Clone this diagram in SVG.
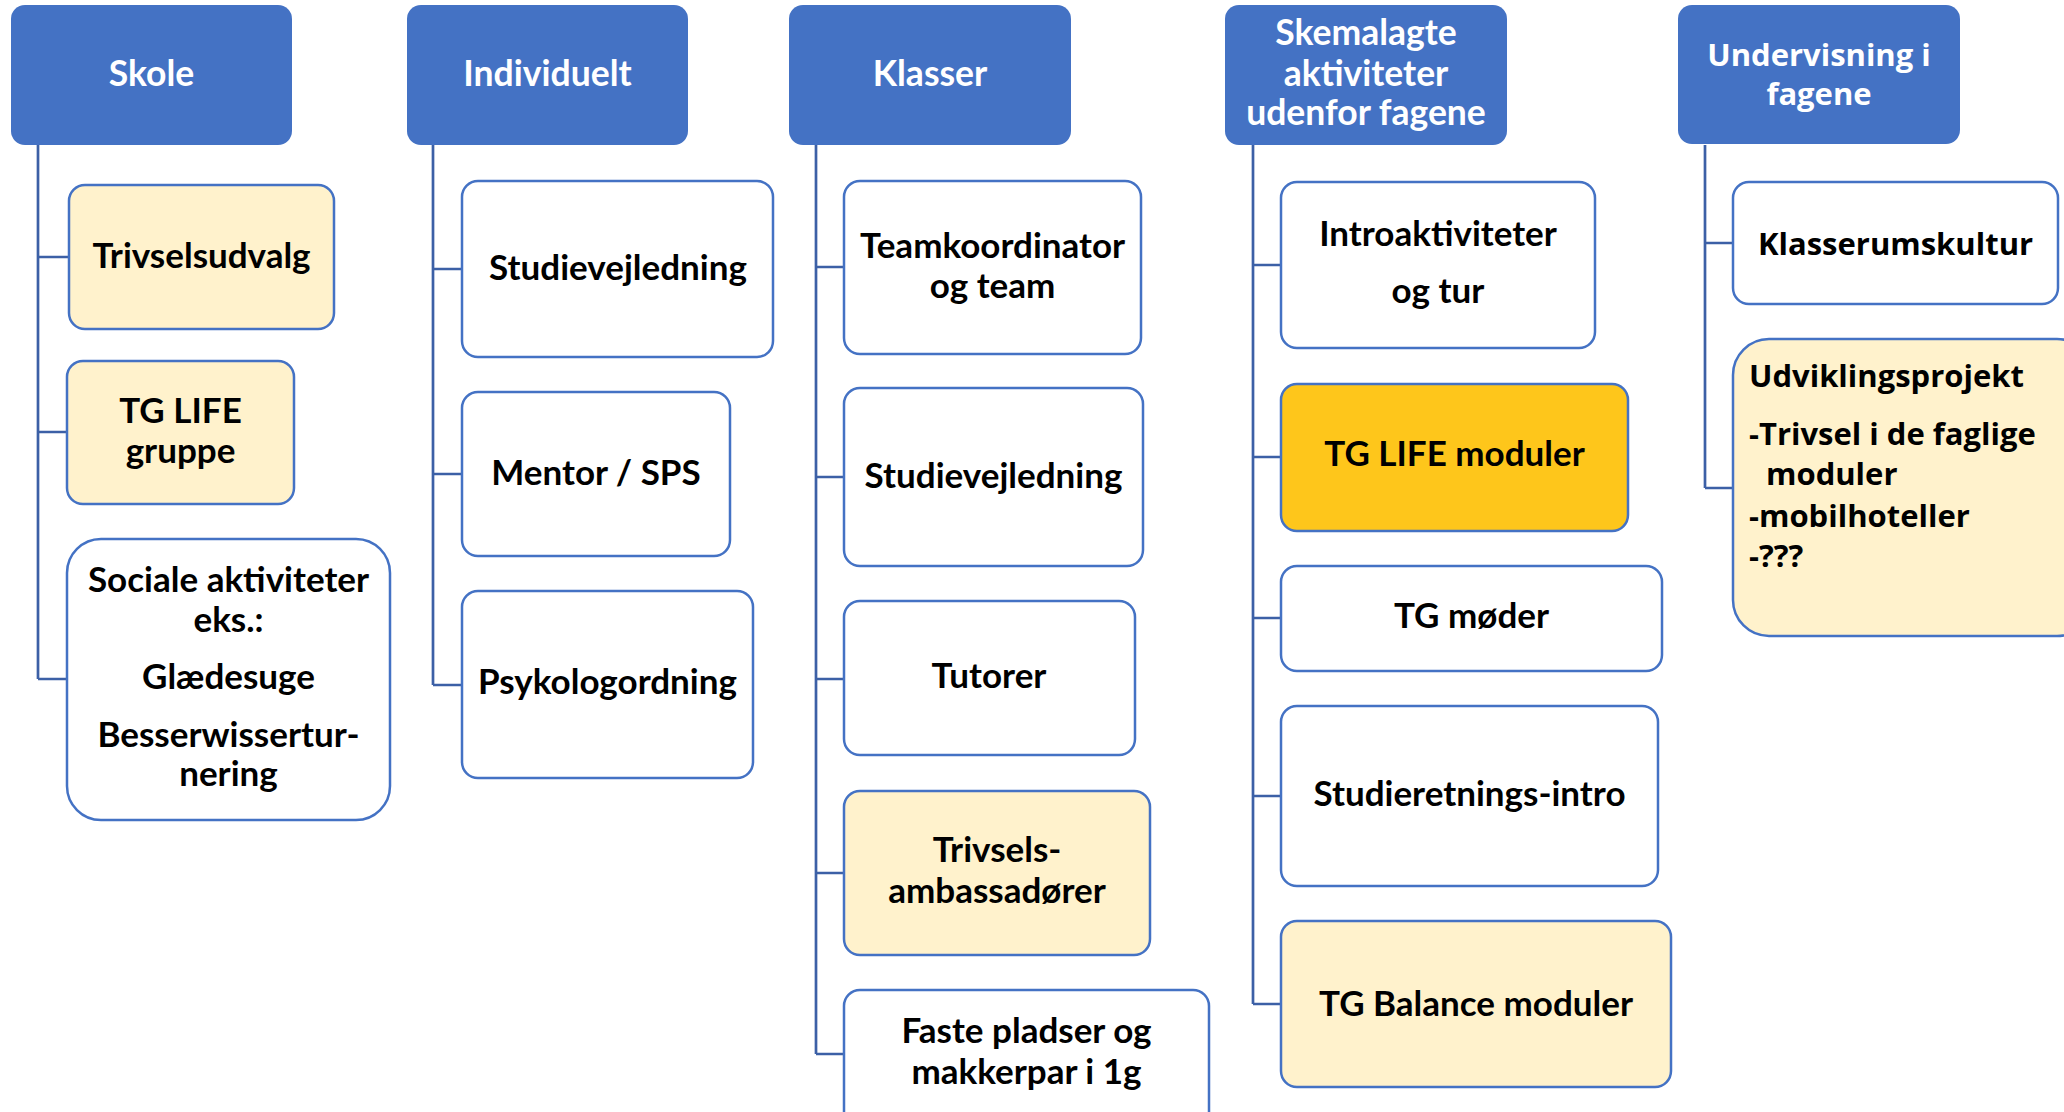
<svg xmlns="http://www.w3.org/2000/svg" width="2064" height="1112" viewBox="0 0 2064 1112">
<style>
.hd{fill:#4472C4;}
.bx{fill:#FFFFFF;stroke:#4472C4;stroke-width:2.5;}
.cr{fill:#FFF2CC;stroke:#4472C4;stroke-width:2.5;}
.gd{fill:#FEC61B;stroke:#4472C4;stroke-width:2.5;}
.ln{fill:none;stroke:#3C60A6;stroke-width:2.7;}
text{font-family:Lato,"Liberation Sans",sans-serif;font-weight:700;text-anchor:middle;}
.ht{fill:#FFFFFF;font-size:35.5px;}
.t{fill:#000000;font-size:35px;}
.ot{font-family:"Open Sans","Noto Sans","DejaVu Sans",sans-serif;font-size:31px;}
.lt{text-anchor:start;}
</style>
<rect width="2064" height="1112" fill="#FFFFFF"/>
<g id="connectors">
<path class="ln" d="M38,145 V679 M38,257 H69 M38,432 H67 M38,679 H67"/>
<path class="ln" d="M433,145 V685 M433,269 H462 M433,474 H462 M433,685 H462"/>
<path class="ln" d="M816,145 V1054 M816,267 H844 M816,477 H844 M816,679 H844 M816,873 H844 M816,1054 H844"/>
<path class="ln" d="M1253,145 V1004 M1253,265 H1281 M1253,457 H1281 M1253,618 H1281 M1253,796 H1281 M1253,1004 H1281"/>
<path class="ln" d="M1705,145 V488 M1705,243 H1733 M1705,488 H1733"/>
</g>
<g id="skole">
<rect class="hd" x="11" y="5" width="281" height="140" rx="14"/>
<text class="ht" x="151.5" y="86">Skole</text>
</g>
<g id="individuelt">
<rect class="hd" x="407" y="5" width="281" height="140" rx="14"/>
<text class="ht" x="547.5" y="86">Individuelt</text>
</g>
<g id="klasser">
<rect class="hd" x="789" y="5" width="282" height="140" rx="14"/>
<text class="ht" x="930" y="86">Klasser</text>
</g>
<g id="skemalagte">
<rect class="hd" x="1225" y="5" width="282" height="140" rx="14"/>
<text class="ht" x="1366" y="45">Skemalagte</text>
<text class="ht" x="1366" y="85.5">aktiviteter</text>
<text class="ht" x="1366" y="125">udenfor fagene</text>
</g>
<g id="undervisning">
<rect class="hd" x="1678" y="5" width="282" height="139" rx="14"/>
<text class="ht ot" x="1819" y="66">Undervisning i</text>
<text class="ht ot" x="1819" y="105">fagene</text>
</g>
<g id="trivselsudvalg">
<rect class="cr" x="69" y="185" width="265" height="144" rx="16"/>
<text class="t" x="201.5" y="268">Trivselsudvalg</text>
</g>
<g id="tglife-gruppe">
<rect class="cr" x="67" y="361" width="227" height="143" rx="16"/>
<text class="t" x="180.5" y="422.5">TG LIFE</text>
<text class="t" x="180.5" y="462.5">gruppe</text>
</g>
<g id="sociale">
<rect class="bx" x="67" y="539" width="323" height="281" rx="34"/>
<text class="t" x="228.5" y="592">Sociale aktiviteter</text>
<text class="t" x="228.5" y="632">eks.:</text>
<text class="t" x="228.5" y="689">Glædesuge</text>
<text class="t" x="228.5" y="746.5">Besserwissertur-</text>
<text class="t" x="228.5" y="786">nering</text>
</g>
<g id="studievejledning-ind">
<rect class="bx" x="462" y="181" width="311" height="176" rx="16"/>
<text class="t" x="618" y="280">Studievejledning</text>
</g>
<g id="mentor">
<rect class="bx" x="462" y="392" width="268" height="164" rx="16"/>
<text class="t" x="596" y="485">Mentor / SPS</text>
</g>
<g id="psykologordning">
<rect class="bx" x="462" y="591" width="291" height="187" rx="16"/>
<text class="t" x="607.5" y="694">Psykologordning</text>
</g>
<g id="teamkoordinator">
<rect class="bx" x="844" y="181" width="297" height="173" rx="16"/>
<text class="t" x="992.5" y="258">Teamkoordinator</text>
<text class="t" x="992.5" y="297.5">og team</text>
</g>
<g id="studievejledning-kl">
<rect class="bx" x="844" y="388" width="299" height="178" rx="16"/>
<text class="t" x="993.5" y="487.5">Studievejledning</text>
</g>
<g id="tutorer">
<rect class="bx" x="844" y="601" width="291" height="154" rx="16"/>
<text class="t" x="989" y="688">Tutorer</text>
</g>
<g id="trivselsambassadorer">
<rect class="cr" x="844" y="791" width="306" height="164" rx="16"/>
<text class="t" x="997" y="862">Trivsels-</text>
<text class="t" x="997" y="903">ambassadører</text>
</g>
<g id="faste-pladser">
<rect class="bx" x="844" y="990" width="365" height="150" rx="16"/>
<text class="t" x="1026.5" y="1043">Faste pladser og</text>
<text class="t" x="1026.5" y="1083.5">makkerpar i 1g</text>
</g>
<g id="introaktiviteter">
<rect class="bx" x="1281" y="182" width="314" height="166" rx="16"/>
<text class="t" x="1438" y="246">Introaktiviteter</text>
<text class="t" x="1438" y="303">og tur</text>
</g>
<g id="tglife-moduler">
<rect class="gd" x="1281" y="384" width="347" height="147" rx="16"/>
<text class="t" x="1454.5" y="466">TG LIFE moduler</text>
</g>
<g id="tg-moder">
<rect class="bx" x="1281" y="566" width="381" height="105" rx="16"/>
<text class="t" x="1471.5" y="627.5">TG møder</text>
</g>
<g id="studieretnings-intro">
<rect class="bx" x="1281" y="706" width="377" height="180" rx="16"/>
<text class="t" x="1469.5" y="806">Studieretnings-intro</text>
</g>
<g id="tgbalance">
<rect class="cr" x="1281" y="921" width="390" height="166" rx="16"/>
<text class="t" x="1476" y="1016">TG Balance moduler</text>
</g>
<g id="klasserumskultur">
<rect class="bx" x="1733" y="182" width="325" height="122" rx="16"/>
<text class="t ot" x="1895.5" y="255">Klasserumskultur</text>
</g>
<g id="udviklingsprojekt">
<rect class="cr" x="1733" y="339" width="360" height="297" rx="36"/>
<text class="t ot lt" x="1749" y="387">Udviklingsprojekt</text>
<text class="t ot lt" x="1749" y="445">-Trivsel i de faglige</text>
<text class="t ot lt" x="1766" y="485">moduler</text>
<text class="t ot lt" x="1749" y="527">-mobilhoteller</text>
<text class="t ot lt" x="1749" y="567">-???</text>
</g>
</svg>
